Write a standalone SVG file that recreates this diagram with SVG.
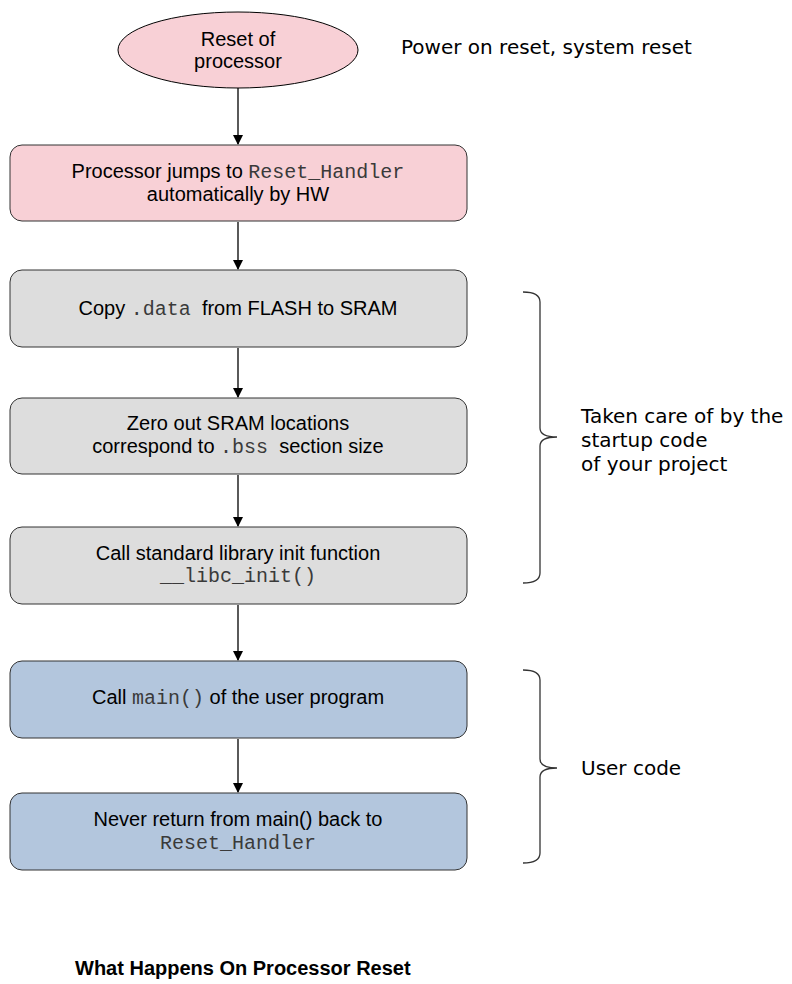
<svg xmlns="http://www.w3.org/2000/svg" width="792" height="984" viewBox="0 0 792 984">
<style>
.box{stroke:#333;stroke-width:1}
.pink{fill:#f8d0d6}
.gray{fill:#dddddd}
.blue{fill:#b3c6dd}
.t{font-family:"Liberation Sans",Arial,sans-serif;font-size:20px;fill:#000;text-anchor:middle;white-space:pre}
.m{font-family:"Liberation Mono","Courier New",monospace;fill:#3a3a3a}
.side{font-family:"DejaVu Sans",sans-serif;font-size:20px;fill:#000}
.conn{stroke:#000;stroke-width:1.3;fill:none}
.brace{stroke:#333;stroke-width:1.3;fill:none}
</style>
<defs>
<marker id="arr" markerWidth="10" markerHeight="10" refX="9" refY="5" orient="auto" markerUnits="userSpaceOnUse">
<path d="M0,0 L10,5 L0,10 z" fill="#000"/>
</marker>
</defs>
<rect width="792" height="984" fill="#fff"/>
<g id="connectors">
<line class="conn" x1="238" y1="88" x2="238" y2="144" marker-end="url(#arr)"/>
<line class="conn" x1="238" y1="222" x2="238" y2="269" marker-end="url(#arr)"/>
<line class="conn" x1="238" y1="348" x2="238" y2="397" marker-end="url(#arr)"/>
<line class="conn" x1="238" y1="475" x2="238" y2="526" marker-end="url(#arr)"/>
<line class="conn" x1="238" y1="605" x2="238" y2="660" marker-end="url(#arr)"/>
<line class="conn" x1="238" y1="739" x2="238" y2="792" marker-end="url(#arr)"/>
</g>
<g id="reset">
<ellipse cx="238" cy="50" rx="120" ry="38" class="pink" stroke="#000" stroke-width="1"/>
<text class="t" x="238" y="46">Reset of</text>
<text class="t" x="238" y="68">processor</text>
</g>
<g id="jump">
<rect x="10" y="145" width="457" height="76" rx="12" class="box pink"/>
<text class="t" x="238" y="178">Processor jumps to <tspan class="m">Reset_Handler</tspan></text>
<text class="t" x="238" y="201">automatically by HW</text>
</g>
<g id="copy">
<rect x="10" y="270" width="457" height="77" rx="12" class="box gray"/>
<text class="t" x="238" y="315" xml:space="preserve">Copy <tspan class="m">.data</tspan>  from FLASH to SRAM</text>
</g>
<g id="zero">
<rect x="10" y="398" width="457" height="76" rx="12" class="box gray"/>
<text class="t" x="238" y="430">Zero out SRAM locations</text>
<text class="t" x="238" y="453" xml:space="preserve">correspond to <tspan class="m">.bss</tspan>  section size</text>
</g>
<g id="libc">
<rect x="10" y="527" width="457" height="77" rx="12" class="box gray"/>
<text class="t" x="238" y="560">Call standard library init function</text>
<text class="t m" x="238" y="582">__libc_init()</text>
</g>
<g id="main">
<rect x="10" y="661" width="457" height="77" rx="12" class="box blue"/>
<text class="t" x="238" y="704">Call <tspan class="m">main()</tspan> of the user program</text>
</g>
<g id="never">
<rect x="10" y="793" width="457" height="77" rx="12" class="box blue"/>
<text class="t" x="238" y="826">Never return from main() back to</text>
<text class="t m" x="238" y="849">Reset_Handler</text>
</g>
<g id="notes">
<text class="side" x="401" y="54">Power on reset, system reset</text>
<path class="brace" d="M523,292 Q540,292 540,302 L540,428 Q540,437 557,437 Q540,437 540,446 L540,573 Q540,583 523,583"/>
<text class="side" x="581" y="423">Taken care of by the</text>
<text class="side" x="581" y="447">startup code</text>
<text class="side" x="581" y="471">of your project</text>
<path class="brace" d="M523,670 Q540,670 540,680 L540,759 Q540,768 557,768 Q540,768 540,777 L540,853 Q540,863 523,863"/>
<text class="side" x="581" y="775">User code</text>
</g>
<g id="title">
<text x="75" y="975" font-family="Liberation Sans,Arial,sans-serif" font-size="20" font-weight="bold">What Happens On Processor Reset</text>
</g>
</svg>
